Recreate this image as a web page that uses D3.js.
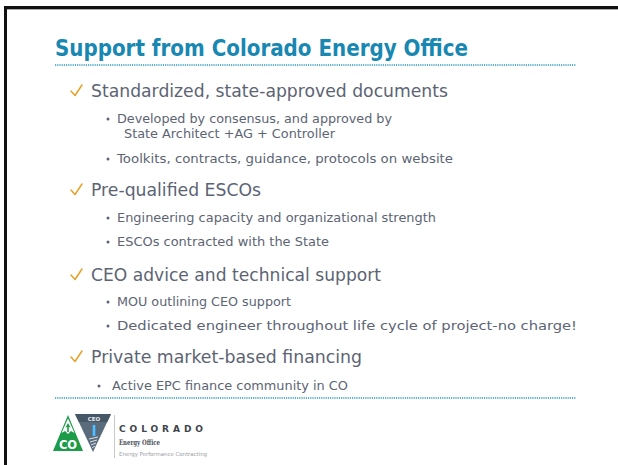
<!DOCTYPE html>
<html><head><meta charset="utf-8">
<script src="https://cdn.jsdelivr.net/npm/d3@7"></script>
<style>html,body{margin:0;padding:0;background:#fff;overflow:hidden}</style>
</head><body>
<script>
// ---- content (data) ----
const title = "Support from Colorado Energy Office";
const headings = [
  "Standardized, state-approved documents",
  "Pre-qualified ESCOs",
  "CEO advice and technical support",
  "Private market-based financing"
];
const subItems = [
  [["Developed by consensus, and approved by", " State Architect +AG + Controller"],
   ["Toolkits, contracts, guidance, protocols on website"]],
  [["Engineering capacity and organizational strength"],
   ["ESCOs contracted with the State"]],
  [["MOU outlining CEO support"],
   ["Dedicated engineer throughout life cycle of project-no charge!"]],
  [["Active EPC finance community in CO"]]
];
const logoWords = ["COLORADO", "Energy Office", "Energy Performance Contracting"];
const logoBadge = ["CEO", "CO"];

// ---- layout ----
const W = 618, H = 465;
const headY = [97, 196, 281, 363];
const subY = [[[123, 138], [163]], [[222], [246]], [[306], [330]], [[390]]];
const headW = [357, 170, 290, 271];
const subW = [[[275, 211], [336]], [[319], [212]], [[174], [460]], [[236]]];
const FONT = "'DejaVu Sans', sans-serif";
const TEAL = "#1888b2", TEXT = "#5c6474", ORANGE = "#e6a126";

const svg = d3.select("body").append("svg").attr("width", W).attr("height", H);
svg.append("rect").attr("width", W).attr("height", H).attr("fill", "#fff");

// frame (top + left)
svg.append("rect").attr("x", 4).attr("y", 6).attr("width", W - 4).attr("height", 3).attr("fill", "#111");
svg.append("rect").attr("x", 7).attr("y", 9).attr("width", W - 7).attr("height", 1).attr("fill", "#aaa");
svg.append("rect").attr("x", 4).attr("y", 6).attr("width", 3).attr("height", H - 6).attr("fill", "#111");

function fitText(sel, w, mode) {
  if (w) sel.attr("textLength", w).attr("lengthAdjust", mode || "spacingAndGlyphs");
  return sel;
}

// title
fitText(svg.append("text").attr("x", 55).attr("y", 56)
  .attr("font-family", FONT).attr("font-weight", "bold").attr("font-size", 23)
  .attr("fill", TEAL).text(title), 413);

// dotted rules
const rule = d3.scaleLinear().domain([0, 1]).range([55, 576]);
[65, 398].forEach(y => {
  svg.append("line").attr("x1", rule(0)).attr("x2", rule(1)).attr("y1", y).attr("y2", y)
    .attr("stroke", "#2a9ac0").attr("stroke-width", 1.3).attr("stroke-dasharray", "1.2,1");
});

// headings with check marks
headings.forEach((h, i) => {
  const y = headY[i];
  svg.append("path")
    .attr("d", `M71,${y - 6} L75,${y - 1.5} L82,${y - 12}`)
    .attr("fill", "none").attr("stroke", ORANGE).attr("stroke-width", 1.5)
    .attr("stroke-linecap", "round").attr("stroke-linejoin", "round");
  fitText(svg.append("text").attr("x", 91).attr("y", y)
    .attr("font-family", FONT).attr("font-size", 17.5).attr("fill", TEXT).text(h), headW[i]);
  subItems[i].forEach((lines, j) => {
    const last = i === headings.length - 1;
    const tx = last ? 112 : 117;
    const bx = last ? 99 : 108;
    svg.append("circle").attr("cx", bx).attr("cy", subY[i][j][0] - 4).attr("r", 1.5).attr("fill", TEXT);
    lines.forEach((ln, k) => {
      const isCont = k > 0;
      fitText(svg.append("text").attr("x", isCont ? 124 : tx).attr("y", subY[i][j][k])
        .attr("font-family", FONT).attr("font-size", 13).attr("fill", TEXT)
        .text(ln.trim()), subW[i][j][k]);
    });
  });
});

// logo
const g = svg.append("g");
// gray inverted triangle (behind)
g.append("path").attr("d", "M75,414 L111,414 L93,452 Z").attr("fill", "#5a6c7c");
g.append("path").attr("d", "M75,414 L111,414 L107.2,422 L78.8,422 Z").attr("fill", "#465766");
g.append("text").attr("x", 94).attr("y", 420.5).attr("text-anchor", "middle")
  .attr("font-family", FONT).attr("font-weight", "bold").attr("font-size", 5.5).attr("fill", "#e8eef2").text(logoBadge[0]);
g.append("rect").attr("x", 92).attr("y", 425).attr("width", 4).attr("height", 11).attr("fill", "#2b8fd0");
g.append("line").attr("x1", 94).attr("x2", 94).attr("y1", 425).attr("y2", 436).attr("stroke", "#fff").attr("stroke-width", 0.7);
[439, 442, 445, 448].forEach((y, k) => g.append("line").attr("x1", 89 + k).attr("x2", 98 - k).attr("y1", y).attr("y2", y - 2)
  .attr("stroke", "#fff").attr("stroke-width", 0.8));
// green triangle
g.append("path").attr("d", "M53,451 L68,415 L83,451 Z").attr("fill", "#1c9b48");
// white mountain with green arrow
g.append("path").attr("d", "M68,418.5 L61.5,433 L65,431 L68,434 L71,431 L74.5,433 Z").attr("fill", "#fff");
g.append("path").attr("d", "M68,423 L65.5,427.5 L67.2,427 L67.2,432 L68.8,432 L68.8,427 L70.5,427.5 Z").attr("fill", "#1c9b48");
g.append("text").attr("x", 68).attr("y", 448.5).attr("text-anchor", "middle")
  .attr("font-family", FONT).attr("font-weight", "bold").attr("font-size", 11.5).attr("fill", "#fff").text(logoBadge[1]);
// separator
g.append("line").attr("x1", 114.5).attr("x2", 114.5).attr("y1", 415).attr("y2", 458).attr("stroke", "#c8c8c8").attr("stroke-width", 1);
fitText(g.append("text").attr("x", 119).attr("y", 432).attr("font-family", FONT).attr("font-weight", "bold")
  .attr("font-size", 9).attr("fill", "#3e444c").text(logoWords[0]), 84, "spacing");
fitText(g.append("text").attr("x", 119).attr("y", 445).attr("font-family", "'DejaVu Serif', serif").attr("font-weight", "bold")
  .attr("font-size", 7.5).attr("fill", "#4a5058").text(logoWords[1]), 41);
fitText(g.append("text").attr("x", 119).attr("y", 456).attr("font-family", FONT)
  .attr("font-size", 5.5).attr("fill", "#9a9ea4").text(logoWords[2]), 88);
</script>
</body></html>
